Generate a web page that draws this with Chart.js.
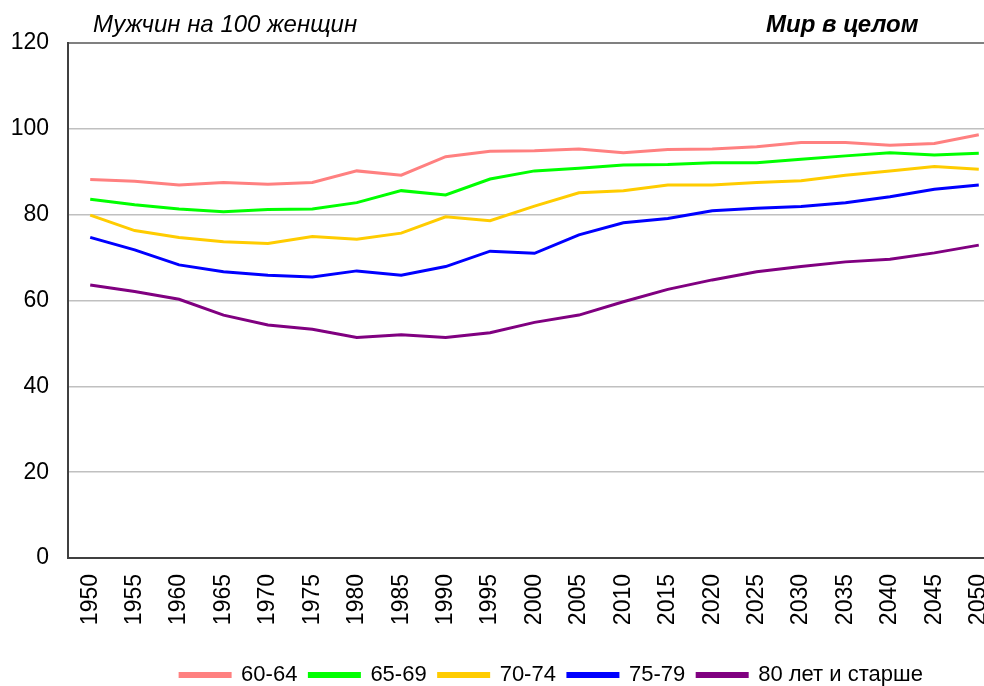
<!DOCTYPE html>
<html>
<head>
<meta charset="utf-8">
<script src="https://cdn.jsdelivr.net/npm/chart.js@4"></script>
<style>
  html, body { margin:0; padding:0; background:#fff; overflow:hidden; width:984px; height:686px; }
  #wrap { position:relative; width:1010px; height:696px; }
  .ttl { position:absolute; font-family:"Liberation Sans", Arial, sans-serif; font-style:italic; font-size:24px; color:#000; white-space:nowrap; }
</style>
</head>
<body>
<div id="wrap">
  <canvas id="c" width="1010" height="696"></canvas>
  <div class="ttl" style="left:93px; top:10px;">Мужчин на 100 женщин</div>
  <div class="ttl" style="left:766px; top:10px; font-weight:bold;">Мир в целом</div>
</div>
<script>
const years = ['1950','1955','1960','1965','1970','1975','1980','1985','1990','1995','2000','2005','2010','2015','2020','2025','2030','2035','2040','2045','2050'];
const seriesNames = ['60-64','65-69','70-74','75-79','80 лет и старше'];
const m6064 = [88.2, 87.8, 86.9, 87.5, 87.1, 87.5, 90.2, 89.2, 93.5, 94.8, 94.9, 95.3, 94.4, 95.2, 95.3, 95.8, 96.8, 96.8, 96.2, 96.6, 98.6];
const m6569 = [83.6, 82.3, 81.3, 80.7, 81.2, 81.3, 82.8, 85.6, 84.6, 88.3, 90.2, 90.8, 91.6, 91.7, 92.1, 92.1, 92.9, 93.7, 94.4, 93.9, 94.3];
const m7074 = [79.9, 76.3, 74.7, 73.7, 73.3, 74.9, 74.3, 75.7, 79.5, 78.6, 82.0, 85.1, 85.6, 86.9, 86.9, 87.5, 87.9, 89.2, 90.2, 91.2, 90.6];
const m7579 = [74.7, 71.8, 68.3, 66.7, 65.9, 65.5, 66.9, 65.9, 67.9, 71.5, 71.0, 75.3, 78.1, 79.1, 80.9, 81.5, 81.9, 82.8, 84.2, 85.9, 86.9];
const m80plus = [63.6, 62.1, 60.3, 56.6, 54.3, 53.3, 51.4, 52.0, 51.4, 52.5, 54.9, 56.6, 59.7, 62.6, 64.8, 66.7, 67.9, 69.0, 69.6, 71.1, 72.9];
const colors = ['#ff8080', '#00ff00', '#ffcc00', '#0000ff', '#800080'];
const allSeries = [m6064, m6569, m7074, m7579, m80plus];

const shiftLegend = {
  id: 'shiftLegend',
  afterLayout(chart) {
    const lg = chart.legend;
    if (lg) { lg.left += 51; lg.right += 51; }
  }
};

new Chart(document.getElementById('c'), {
  type: 'line',
  data: {
    labels: years,
    datasets: allSeries.map((d, i) => ({
      label: seriesNames[i],
      data: d,
      borderColor: colors[i],
      backgroundColor: colors[i],
      borderWidth: 3,
      pointRadius: 0,
      tension: 0,
      fill: false
    }))
  },
  options: {
    responsive: false,
    animation: false,
    layout: { padding: { top: 43, left: 0, right: 9, bottom: 0 } },
    plugins: {
      tooltip: { enabled: false },
      title: { display: false },
      legend: {
        position: 'bottom',
        labels: {
          boxWidth: 50,
          boxHeight: 3,
          padding: 12,
          color: '#000',
          font: { family: '"Liberation Sans", Arial, sans-serif', size: 22 }
        }
      }
    },
    scales: {
      x: {
        offset: true,
        grid: { display: false, drawTicks: false },
        border: { display: true, color: '#404040', width: 2 },
        ticks: {
          minRotation: 90, maxRotation: 90, autoSkip: false, padding: 16,
          color: '#000',
          font: { family: '"Liberation Sans", Arial, sans-serif', size: 23 }
        },
        afterFit(s) { s.height = 94; s.paddingLeft = 0; s.paddingRight = 0; }
      },
      y: {
        min: 0, max: 120,
        ticks: {
          stepSize: 20, padding: 19, color: '#000',
          font: { family: '"Liberation Sans", Arial, sans-serif', size: 23 }
        },
        grid: {
          drawTicks: false,
          color: (c) => c.tick && c.tick.value === 120 ? '#808080' : '#c0c0c0',
          lineWidth: (c) => c.tick && c.tick.value === 120 ? 2 : 1.5
        },
        border: { display: true, color: '#404040', width: 2 },
        afterFit(s) { s.width = 68; s.paddingTop = 0; s.paddingBottom = 0; }
      }
    }
  },
  plugins: [shiftLegend]
});
</script>
</body>
</html>
